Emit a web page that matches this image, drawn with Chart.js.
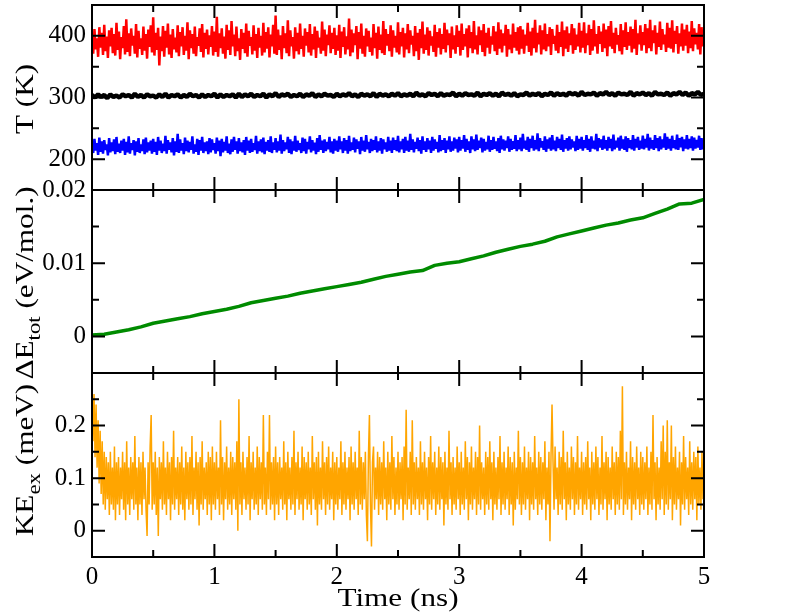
<!DOCTYPE html>
<html>
<head>
<meta charset="utf-8">
<script src="https://cdn.jsdelivr.net/npm/chart.js@4.4.1/dist/chart.umd.min.js"></script>
<style>
  body { margin: 0; background: #fff; }
  #wrap { position: relative; width: 792px; height: 612px; }
  canvas { position: absolute; left: 0; top: 0; }
</style>
</head>
<body>
<div id="wrap">
  <canvas id="tempChart" width="792" height="612"></canvas>
  <canvas id="energyChart" width="792" height="612"></canvas>
  <canvas id="kineticChart" width="792" height="612"></canvas>
</div>
<script>
// time axis runs 0..5 ns, samples evenly spaced over it
const timeEnd = 5;
const xTicks = [0, 1, 2, 3, 4, 5];
const xMinor = [0.5, 1.5, 2.5, 3.5, 4.5];

// T (K) panel, 100 samples per ns
const tempHot = [
  402, 371, 411, 378, 396, 366, 414, 381, 405, 369, 418, 375, 399, 364, 409, 383, 413, 372, 403, 368, 421, 377, 407, 362, 398, 380, 416, 370, 427, 374, 404, 367, 412, 384, 400, 371, 419, 365, 408, 379, 396, 369, 415, 376, 403, 363, 410, 382, 417, 373,
  430, 368, 405, 377, 413, 352, 399, 375, 416, 366, 408, 381, 420, 370, 402, 364, 411, 378, 397, 373, 417, 367, 406, 383, 414, 369, 400, 376, 422, 362, 409, 380, 403, 371, 415, 367, 398, 384, 412, 374, 419, 365, 405, 379, 410, 370, 401, 382, 416, 368,
  407, 374, 431, 366, 404, 380, 412, 371, 399, 363, 418, 377, 409, 369, 424, 383, 402, 367, 415, 375, 396, 361, 411, 379, 405, 372, 420, 366, 408, 384, 398, 370, 417, 376, 403, 364, 413, 381, 400, 368, 421, 373, 406, 379, 414, 365, 402, 383, 418, 371,
  433, 369, 410, 377, 401, 362, 416, 380, 404, 372, 425, 367, 409, 383, 398, 363, 414, 375, 405, 370, 420, 379, 400, 366, 412, 384, 406, 373, 419, 368, 403, 378, 415, 364, 408, 381, 397, 371, 423, 376, 410, 367, 402, 385, 417, 372, 405, 379, 413, 369,
  401, 376, 418, 364, 407, 382, 414, 370, 399, 378, 428, 367, 410, 373, 404, 385, 416, 362, 406, 379, 420, 371, 400, 366, 412, 383, 408, 374, 397, 368, 419, 380, 405, 363, 415, 377, 402, 372, 424, 369, 411, 384, 403, 375, 417, 366, 409, 381, 400, 373,
  422, 370, 406, 383, 413, 365, 404, 378, 419, 372, 409, 386, 400, 367, 416, 375, 405, 361, 411, 380, 423, 371, 402, 377, 414, 368, 408, 384, 399, 374, 418, 366, 406, 381, 412, 370, 403, 379, 421, 373, 410, 385, 404, 364, 415, 378, 401, 371, 417, 382,
  408, 368, 420, 377, 403, 383, 412, 365, 417, 380, 406, 372, 424, 378, 401, 370, 415, 385, 409, 374, 419, 367, 405, 381, 413, 371, 399, 386, 416, 375, 407, 369, 422, 379, 410, 373, 404, 384, 418, 366, 411, 378, 402, 372, 420, 381, 406, 376, 414, 370,
  416, 379, 410, 371, 402, 384, 421, 374, 407, 368, 413, 380, 426, 373, 405, 386, 417, 370, 409, 378, 420, 375, 403, 383, 414, 369, 411, 387, 400, 376, 418, 372, 406, 382, 423, 367, 409, 379, 415, 374, 404, 385, 419, 371, 412, 377, 402, 383, 421, 373,
  408, 381, 422, 372, 404, 385, 418, 369, 411, 376, 425, 383, 403, 371, 416, 387, 407, 374, 420, 380, 410, 367, 416, 383, 424, 379, 405, 372, 413, 386, 401, 375, 419, 370, 409, 382, 422, 377, 406, 384, 415, 373, 411, 379, 426, 369, 404, 386, 417, 376,
  406, 385, 419, 372, 412, 380, 426, 375, 409, 388, 417, 370, 405, 382, 423, 377, 411, 386, 402, 374, 421, 381, 413, 379, 425, 373, 408, 387, 416, 371, 404, 383, 420, 376, 410, 384, 418, 372, 407, 380, 424, 375, 412, 386, 405, 378, 419, 370, 414, 383,
  392
];
const tempMid = [
  304, 300, 305, 301, 304, 299, 305, 301, 303, 300, 305, 302, 304, 300, 306, 301, 304, 300, 305, 302, 303, 300, 305, 301, 306, 300, 304, 302, 305, 300, 304, 301, 306, 302, 304, 300, 305, 301, 304, 302, 306, 300, 305, 301, 304, 302, 305, 300, 306, 301,
  305, 302, 306, 301, 304, 302, 306, 300, 305, 302, 307, 301, 305, 303, 306, 301, 304, 302, 306, 301, 305, 303, 307, 301, 305, 302, 306, 303, 304, 301, 306, 302, 305, 303, 307, 302, 305, 301, 306, 303, 305, 302, 307, 301, 306, 303, 305, 302, 306, 303,
  307, 302, 305, 303, 306, 302, 308, 303, 305, 302, 307, 304, 306, 302, 307, 303, 305, 304, 308, 302, 306, 303, 307, 304, 305, 303, 308, 302, 306, 304, 307, 303, 306, 302, 308, 304, 306, 303, 307, 302, 305, 304, 308, 303, 306, 304, 307, 302, 306, 304,
  308, 303, 307, 304, 306, 303, 308, 305, 307, 303, 309, 304, 306, 305, 308, 303, 307, 305, 309, 304, 307, 303, 308, 305, 306, 304, 309, 303, 307, 305, 308, 304, 307, 303, 309, 305, 306, 304, 308, 303, 307, 305, 309, 304, 308, 303, 307, 305, 309, 304,
  306
];
const tempCold = [
  228, 210, 233, 214, 226, 207, 235, 212, 229, 209, 231, 215, 224, 206, 234, 211, 227, 213, 232, 208, 236, 212, 225, 210, 230, 214, 233, 207, 228, 211, 237, 209, 226, 215, 231, 206, 229, 212, 234, 210, 224, 213, 232, 208, 235, 211, 227, 214, 230, 209,
  233, 212, 228, 207, 236, 214, 230, 210, 225, 213, 238, 209, 231, 215, 227, 211, 234, 206, 229, 212, 241, 210, 232, 214, 226, 208, 235, 213, 230, 211, 228, 215, 237, 209, 224, 212, 233, 207, 231, 214, 236, 210, 227, 213, 229, 208, 234, 211, 232, 215,
  226, 209, 235, 213, 230, 205, 233, 211, 228, 214, 237, 210, 225, 208, 232, 212, 236, 215, 229, 209, 234, 213, 227, 211, 231, 207, 236, 214, 230, 210, 233, 212, 226, 215, 238, 209, 229, 213, 232, 211, 235, 208, 228, 214, 231, 212, 237, 210, 227, 215,
  234, 211, 229, 214, 240, 209, 231, 213, 227, 216, 236, 210, 232, 208, 229, 214, 238, 212, 230, 215, 226, 210, 235, 213, 233, 209, 228, 216, 237, 211, 231, 214, 227, 208, 234, 212, 239, 215, 230, 210, 232, 213, 228, 216, 236, 211, 229, 209, 233, 214,
  230, 212, 237, 216, 229, 210, 234, 214, 231, 209, 238, 213, 227, 215, 235, 211, 232, 217, 229, 208, 236, 214, 230, 212, 239, 216, 228, 210, 233, 213, 231, 215, 237, 211, 229, 214, 234, 209, 232, 216, 227, 212, 236, 214, 230, 210, 235, 215, 231, 213,
  238, 211, 229, 216, 233, 210, 236, 214, 230, 212, 241, 215, 232, 211, 228, 217, 235, 213, 231, 209, 237, 215, 229, 212, 234, 216, 230, 210, 236, 214, 232, 217, 228, 211, 239, 213, 231, 215, 234, 210, 230, 216, 237, 212, 229, 214, 235, 217, 232, 211,
  236, 214, 231, 217, 239, 212, 233, 215, 229, 210, 237, 216, 232, 213, 240, 215, 230, 218, 235, 211, 233, 214, 228, 216, 238, 212, 231, 215, 236, 217, 229, 213, 234, 210, 238, 216, 232, 214, 230, 218, 237, 212, 233, 215, 229, 217, 239, 213, 231, 216,
  235, 213, 241, 217, 230, 215, 236, 212, 233, 218, 238, 214, 231, 216, 242, 213, 234, 219, 229, 215, 237, 212, 232, 217, 235, 214, 239, 216, 230, 213, 236, 218, 233, 215, 240, 212, 231, 217, 234, 214, 237, 216, 232, 219, 229, 213, 238, 215, 233, 217,
  236, 214, 231, 218, 239, 215, 233, 212, 237, 217, 230, 216, 241, 213, 234, 219, 232, 215, 238, 217, 231, 214, 236, 218, 233, 213, 240, 216, 230, 219, 235, 214, 238, 217, 232, 215, 237, 212, 234, 218, 231, 216, 239, 214, 233, 219, 236, 215, 230, 217,
  238, 216, 233, 219, 241, 214, 235, 217, 231, 215, 239, 218, 234, 213, 237, 216, 232, 219, 242, 215, 236, 217, 233, 214, 238, 218, 231, 216, 240, 215, 234, 219, 236, 213, 232, 217, 239, 216, 233, 218, 237, 214, 235, 217, 231, 219, 238, 215, 234, 216,
  226
];
const tempTicks = [200, 300, 400];
const tempMinor = [250, 350];

// ΔE_tot (eV/mol.) panel, one value per 0.1 ns
const energyDrift = [
  0.0002, 0.0003, 0.0006, 0.0009, 0.0013, 0.0018, 0.0021, 0.0024, 0.0027, 0.0031,
  0.0034, 0.0037, 0.0041, 0.0046, 0.0049, 0.0052, 0.0055, 0.0059, 0.0062, 0.0065,
  0.0068, 0.0071, 0.0074, 0.0078, 0.0082, 0.0085, 0.0088, 0.0090, 0.0097, 0.0100,
  0.0102, 0.0106, 0.0110, 0.0115, 0.0119, 0.0123, 0.0126, 0.0130, 0.0136, 0.0140,
  0.0144, 0.0148, 0.0152, 0.0155, 0.0159, 0.0162, 0.0168, 0.0174, 0.0181, 0.0182,
  0.0187
];
const energyTicks = [0, 0.01, 0.02];
const energyMinor = [0.005, 0.015];

// KE_ex (meV) panel, 120 samples per ns
const kineticEx = [
  0.29, 0.17, 0.26, 0.14, 0.24, 0.12, 0.21, 0.09, 0.19, 0.07, 0.17, 0.05, 0.15, 0.04, 0.14, 0.06, 0.13, 0.03, 0.15, 0.05, 0.12, 0.04, 0.16, 0.02, 0.13, 0.05, 0.14, 0.03, 0.12, 0.06,
  0.15, 0.04, 0.13, 0.02, 0.17, 0.05, 0.12, 0.03, 0.14, 0.06, 0.13, 0.04, 0.18, 0.05, 0.12, 0.02, 0.14, 0.05, 0.13, 0.03, 0.15, 0.06, 0.12, 0.04, -0.01, 0.13, 0.05, 0.16, 0.22, 0.04,
  0.13, 0.05, 0.15, 0.03, 0.12, -0.01, 0.14, 0.06, 0.13, 0.04, 0.17, 0.05, 0.12, 0.03, 0.15, 0.06, 0.13, 0.02, 0.14, 0.05, 0.19, 0.04, 0.12, 0.06, 0.14, 0.03, 0.13, 0.05, 0.16, 0.04,
  0.12, 0.02, 0.15, 0.06, 0.13, 0.04, 0.14, 0.05, 0.18, 0.03, 0.12, 0.06, 0.15, 0.04, 0.13, 0.01, 0.14, 0.05, 0.17, 0.04, 0.12, 0.06, 0.13, 0.03, 0.15, 0.05, 0.14, 0.02, 0.16, 0.05,
  0.13, 0.04, 0.15, 0.06, 0.12, 0.03, 0.21, 0.05, 0.14, 0.02, 0.13, 0.06, 0.16, 0.04, 0.12, 0.05, 0.15, 0.03, 0.14, 0.06, 0.13, 0.04, 0.17, 0.00, 0.25, 0.05, 0.13, 0.03, 0.15, 0.06,
  0.12, 0.04, 0.14, 0.05, 0.18, 0.02, 0.13, 0.06, 0.15, 0.04, 0.12, 0.05, 0.16, 0.03, 0.14, 0.06, 0.13, 0.04, 0.22, 0.05, 0.12, 0.03, 0.15, 0.06, 0.22, 0.04, 0.13, 0.05, 0.14, 0.02,
  0.16, 0.05, 0.13, 0.03, 0.14, 0.06, 0.12, 0.04, 0.17, 0.05, 0.13, 0.02, 0.15, 0.06, 0.12, 0.04, 0.14, 0.05, 0.19, 0.03, 0.13, 0.06, 0.15, 0.04, 0.12, 0.05, 0.16, 0.02, 0.14, 0.06,
  0.13, 0.04, 0.15, 0.05, 0.12, 0.03, 0.18, 0.06, 0.13, 0.04, 0.14, 0.01, 0.15, 0.05, 0.12, 0.04, 0.17, 0.06, 0.13, 0.03, 0.14, 0.05, 0.16, 0.04, 0.12, 0.06, 0.15, 0.02, 0.13, 0.05,
  0.14, 0.04, 0.12, 0.06, 0.17, 0.03, 0.13, 0.05, 0.15, 0.04, 0.12, 0.06, 0.14, 0.02, 0.16, 0.05, 0.13, 0.04, 0.15, 0.06, 0.12, 0.03, 0.19, 0.05, 0.14, 0.04, 0.13, 0.06, 0.15, 0.03,
  -0.02, 0.14, 0.22, 0.05, -0.03, 0.13, 0.16, 0.04, 0.12, 0.06, 0.15, 0.03, 0.14, 0.05, 0.13, 0.04, 0.17, 0.06, 0.12, 0.02, 0.15, 0.05, 0.13, 0.04, 0.18, 0.06, 0.14, 0.03, 0.12, 0.05,
  0.15, 0.04, 0.13, 0.06, 0.14, 0.02, 0.16, 0.05, 0.23, 0.04, 0.12, 0.06, 0.15, 0.03, 0.21, 0.05, 0.13, 0.04, 0.14, 0.06, 0.12, 0.03, 0.17, 0.05, 0.13, 0.04, 0.15, 0.06, 0.12, 0.02,
  0.14, 0.05, 0.18, 0.04, 0.13, 0.06, 0.15, 0.03, 0.12, 0.05, 0.16, 0.04, 0.14, 0.06, 0.13, 0.01, 0.15, 0.05, 0.12, 0.04, 0.19, 0.06, 0.13, 0.03, 0.14, 0.05, 0.12, 0.04, 0.16, 0.06,
  0.13, 0.03, 0.15, 0.05, 0.12, 0.04, 0.17, 0.06, 0.14, 0.02, 0.13, 0.05, 0.16, 0.04, 0.12, 0.06, 0.15, 0.03, 0.14, 0.05, 0.20, 0.04, 0.13, 0.06, 0.12, 0.03, 0.15, 0.05, 0.14, 0.04,
  0.17, 0.06, 0.13, 0.02, 0.15, 0.05, 0.12, 0.04, 0.14, 0.06, 0.18, 0.03, 0.13, 0.05, 0.15, 0.04, 0.12, 0.06, 0.16, 0.03, 0.14, 0.05, 0.13, 0.01, 0.15, 0.04, 0.12, 0.06, 0.19, 0.05,
  0.14, 0.03, 0.13, 0.05, 0.16, 0.04, 0.12, 0.06, 0.15, 0.02, 0.14, 0.05, 0.13, 0.04, 0.18, 0.06, 0.12, 0.03, 0.15, 0.05, 0.14, 0.04, 0.13, 0.06, 0.17, 0.02, 0.12, 0.05, 0.15, -0.02,
  0.14, 0.24, 0.13, 0.04, 0.16, 0.06, 0.12, 0.03, 0.15, 0.05, 0.14, 0.04, 0.19, 0.06, 0.13, 0.02, 0.15, 0.05, 0.12, 0.04, 0.16, 0.06, 0.14, 0.03, 0.13, 0.05, 0.18, 0.04, 0.12, 0.06,
  0.15, 0.03, 0.13, 0.05, 0.14, 0.04, 0.17, 0.06, 0.12, 0.02, 0.15, 0.05, 0.13, 0.04, 0.16, 0.06, 0.14, 0.03, 0.12, 0.05, 0.18, 0.04, 0.13, 0.06, 0.15, 0.02, 0.14, 0.05, 0.12, 0.04,
  0.16, 0.06, 0.13, 0.03, 0.15, 0.05, 0.14, 0.04, 0.19, 0.06, 0.275, 0.03, 0.13, 0.05, 0.15, 0.04, 0.12, 0.06, 0.17, 0.02, 0.14, 0.05, 0.13, 0.04, 0.16, 0.06, 0.12, 0.03, 0.15, 0.05,
  0.14, 0.04, 0.13, 0.06, 0.16, 0.03, 0.12, 0.05, 0.15, 0.04, 0.22, 0.06, 0.13, 0.02, 0.14, 0.05, 0.12, 0.04, 0.17, 0.06, 0.20, 0.03, 0.15, 0.05, 0.21, 0.04, 0.13, 0.06, 0.20, 0.02,
  0.14, 0.05, 0.16, 0.04, 0.12, 0.06, 0.15, 0.01, 0.13, 0.05, 0.18, 0.04, 0.14, 0.06, 0.12, 0.03, 0.17, 0.05, 0.13, 0.04, 0.15, 0.06, 0.14, 0.02, 0.16, 0.05, 0.12, 0.04, 0.15, 0.06,
  0.14
];
const kineticTicks = [0, 0.1, 0.2];
const kineticMinor = [0.05, 0.15, 0.25];

const serifFamily = "'Liberation Serif', serif";
Chart.defaults.font.family = serifFamily;
Chart.defaults.color = "#000";

function toPoints(values) {
  const dt = timeEnd / (values.length - 1);
  return values.map((v, i) => ({ x: i * dt, y: v }));
}

function traceSet(values, color, width) {
  return {
    data: toPoints(values),
    borderColor: color,
    borderWidth: width,
    borderJoinStyle: "bevel",
    pointRadius: 0,
    tension: 0,
    fill: false,
  };
}

// rotated/plain text with subscripts, stretched a bit like the original
function drawRich(ctx, parts, x, y, rotate) {
  const stretch = 1.2;
  ctx.save();
  ctx.translate(x, y);
  if (rotate) ctx.rotate(-Math.PI / 2);
  ctx.scale(stretch, 1);
  let total = 0;
  parts.forEach((p) => {
    ctx.font = (p.sub ? "19px " : "26px ") + serifFamily;
    total += ctx.measureText(p.text).width;
  });
  let cx = -total / 2;
  ctx.textBaseline = "alphabetic";
  ctx.textAlign = "left";
  ctx.fillStyle = "#000";
  parts.forEach((p) => {
    ctx.font = (p.sub ? "19px " : "26px ") + serifFamily;
    ctx.fillText(p.text, cx, p.sub ? 7 : 0);
    cx += ctx.measureText(p.text).width;
  });
  ctx.restore();
}

// box with inward ticks on all four sides
const framePlugin = {
  id: "frame",
  afterDraw(chart, args, opts) {
    const { ctx, chartArea: a, scales } = chart;
    const xs = scales.x, ys = scales.y;
    ctx.save();
    ctx.strokeStyle = "#000";
    ctx.lineWidth = 2;
    ctx.beginPath();
    const xTick = (v, len) => {
      const px = xs.getPixelForValue(v);
      ctx.moveTo(px, a.top); ctx.lineTo(px, a.top + len);
      ctx.moveTo(px, a.bottom); ctx.lineTo(px, a.bottom - len);
    };
    const yTick = (v, len) => {
      const py = ys.getPixelForValue(v);
      ctx.moveTo(a.left, py); ctx.lineTo(a.left + len, py);
      ctx.moveTo(a.right, py); ctx.lineTo(a.right - len, py);
    };
    xTicks.slice(1, -1).forEach((v) => xTick(v, 13));
    xMinor.forEach((v) => xTick(v, 7));
    opts.yMajor.forEach((v) => yTick(v, 13));
    opts.yMinor.forEach((v) => yTick(v, 7));
    ctx.stroke();
    ctx.strokeRect(a.left, a.top, a.right - a.left, a.bottom - a.top);
    ctx.restore();

    drawRich(ctx, opts.title, 33, opts.titleY, true);
    if (opts.xTitle) drawRich(ctx, opts.xTitle, (a.left + a.right) / 2, 606, false);
  },
};

function makePanel(id, datasets, yRange, yMajor, yMinor, title, titleY, padding, bottom) {
  new Chart(document.getElementById(id), {
    type: "line",
    data: { datasets: datasets },
    plugins: [framePlugin],
    options: {
      responsive: false,
      animation: false,
      parsing: false,
      layout: { padding: padding },
      plugins: {
        legend: { display: false },
        tooltip: { enabled: false },
        frame: {
          yMajor: yMajor,
          yMinor: yMinor,
          title: title,
          titleY: titleY,
          xTitle: bottom ? [{ text: "Time (ns)" }] : null,
        },
      },
      scales: {
        x: {
          type: "linear",
          min: 0,
          max: timeEnd,
          display: bottom,
          grid: { display: false, drawTicks: false },
          border: { display: false },
          ticks: { stepSize: 1, padding: 5, font: { size: 25 }, maxRotation: 0 },
          afterBuildTicks: (s) => { s.ticks = xTicks.map((v) => ({ value: v })); },
          afterFit: (s) => { s.height = bottom ? 55 : 0; s.paddingLeft = 0; s.paddingRight = 0; },
        },
        y: {
          type: "linear",
          min: yRange[0],
          max: yRange[1],
          grid: { display: false, drawTicks: false },
          border: { display: false },
          ticks: { padding: 6, font: { size: 25 }, callback: (v) => String(v) },
          afterBuildTicks: (s) => { s.ticks = yMajor.map((v) => ({ value: v })); },
          afterFit: (s) => { s.width = 92; s.paddingTop = 0; s.paddingBottom = 0; },
        },
      },
    },
  });
}

function drawAll() {
  makePanel(
    "tempChart",
    [traceSet(tempHot, "#ff0000", 2.5), traceSet(tempMid, "#000000", 4.5), traceSet(tempCold, "#0000ff", 2.5)],
    [150, 450], tempTicks, tempMinor,
    [{ text: "T (K)" }], 99,
    { left: 0, right: 88, top: 5, bottom: 422 }, false
  );

  makePanel(
    "energyChart",
    [traceSet(energyDrift, "#008b00", 3.5)],
    [-0.005, 0.02], energyTicks, energyMinor,
    [{ text: "ΔE" }, { text: "tot", sub: true }, { text: " (eV/mol.)" }], 283,
    { left: 0, right: 88, top: 190, bottom: 239 }, false
  );

  makePanel(
    "kineticChart",
    [traceSet(kineticEx, "#ffa500", 1.5)],
    [-0.05, 0.3], kineticTicks, kineticMinor,
    [{ text: "KE" }, { text: "ex", sub: true }, { text: " (meV)" }], 460,
    { left: 0, right: 88, top: 373, bottom: 0 }, true
  );
}

document.fonts.load("24px 'Liberation Serif'").then(drawAll, drawAll);
</script>
</body>
</html>
